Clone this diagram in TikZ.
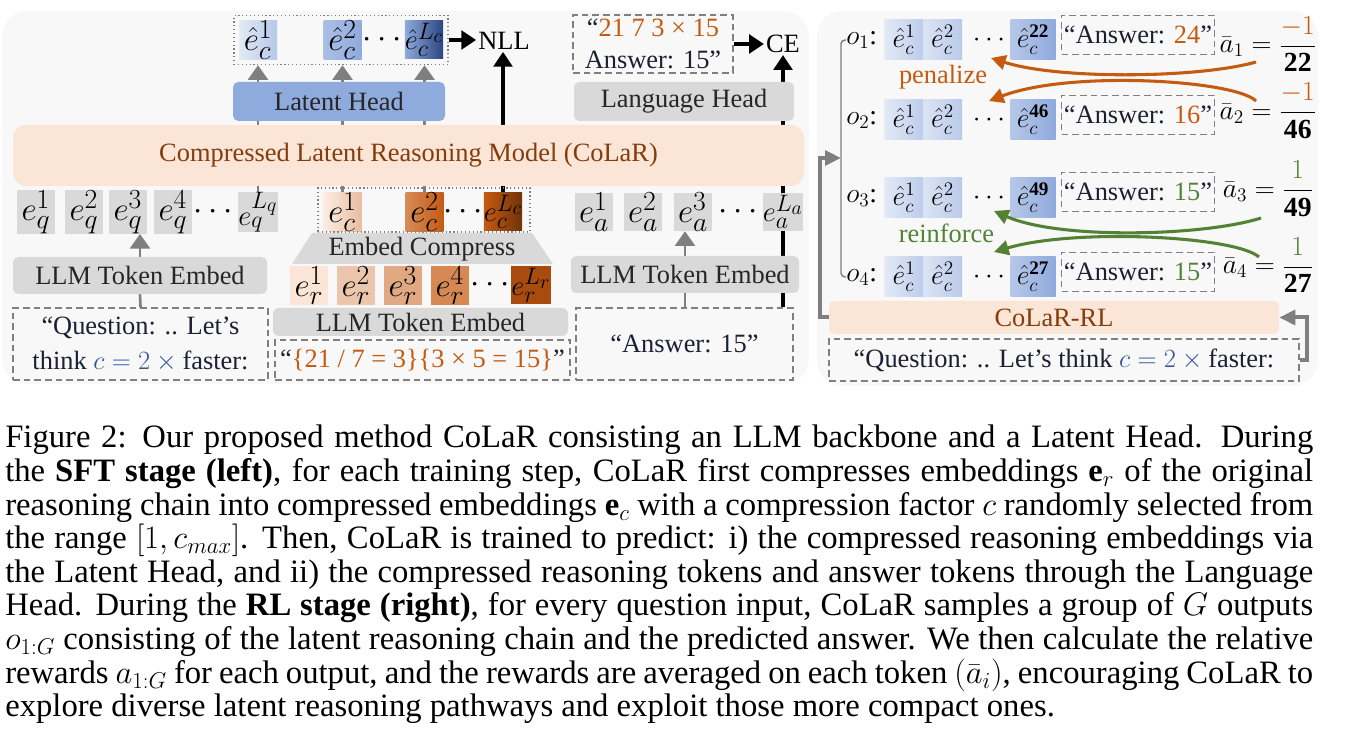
\documentclass[tikz,border=0pt]{standalone}
\usepackage{fix-cm}
\usepackage{fontspec}
\setmainfont{Liberation Serif}
\usepackage{graphicx}
\usepackage{xcolor}
\usepackage{tikz}
\usetikzlibrary{calc, arrows.meta, fit, backgrounds}
\pgfdeclarelayer{panel}
\pgfsetlayers{panel,background,main}
\definecolor{panelgray}{HTML}{F8F8F8}
\definecolor{boxgray}{HTML}{D9D9D9}
\definecolor{latentblue}{HTML}{8FAADC}
\definecolor{darknavy}{HTML}{2A4580}
\definecolor{peach}{HTML}{FBE5D6}
\definecolor{colarbrown}{HTML}{843C0C}
\definecolor{morange}{HTML}{C55A11}
\definecolor{mgreen}{HTML}{548235}
\definecolor{qblue}{HTML}{2F5597}
\definecolor{arrowgray}{HTML}{7F7F7F}
\definecolor{labeldark}{HTML}{262626}
\definecolor{quotedark}{HTML}{1C2033}
\newcommand{\lblsz}{\fontsize{19.8pt}{23.5pt}\selectfont}
\newcommand{\toksz}{\fontsize{24.88pt}{28pt}\selectfont}
\newcommand{\rtoksz}{\fontsize{20.74pt}{24pt}\selectfont}
\newcommand{\eqsz}{\fontsize{20.74pt}{24pt}\selectfont}
\newcommand{\capsz}{\fontsize{24.5pt}{25.2pt}\selectfont}
\newcommand{\lastsym}[1]{\scalebox{0.86}{$#1$}}

\begin{document}
\begin{tikzpicture}[
        x=0.75pt, y=-0.75pt,
        tok/.style = {minimum width=28.5pt, minimum height=28.5pt, inner sep=0pt, font=\toksz},
        gtok/.style = {tok, fill=boxgray},
        rtok/.style = {minimum width=29.25pt, minimum height=30pt, inner sep=0pt, font=\rtoksz},
        headbox/.style = {rounded corners=4pt, inner sep=0pt, align=center, font=\lblsz, text=labeldark},
        quotebox/.style = {draw=arrowgray, dash pattern=on 5pt off 3pt, line width=1.1pt, inner sep=0pt, align=center, font=\lblsz, text=quotedark},
        dotbox/.style = {draw=arrowgray, dotted, line width=0.9pt, inner sep=0pt},
        gline/.style = {draw=arrowgray, line width=2pt},
        garrow/.style = {gline, -{Triangle[width=15pt, length=11pt]}},
        barrow/.style = {draw=black, line width=2.4pt, -{Triangle[width=14pt, length=11pt]}},
        loopline/.style = {draw=arrowgray, line width=3pt, -{Triangle[width=11pt, length=12pt]}},
        bracket/.style = {draw=arrowgray, line width=1.1pt, rounded corners=3pt},
        curvearrow/.style = {line width=2.3pt, -{Triangle[width=11pt, length=11pt]}}
    ]
        \useasboundingbox (0,0) rectangle (1350,748);

        % Panels
        \begin{pgfonlayer}{panel}
            \fill[panelgray, rounded corners=19pt] (2,11) rectangle (809,384);
            \fill[panelgray, rounded corners=19pt] (817,11) rectangle (1318,386);
        \end{pgfonlayer}

        % SFT: predicted latents
        \node (lh1) [tok, left color=latentblue!25, right color=latentblue!65] at (258,40) {$\hat{e}_c^{1}$};
        \node (lh2) [tok, left color=latentblue!75, right color=latentblue] at (342.5,40) {$\hat{e}_c^{2}$};
        \node (lhdots) [font=\toksz] at (382,40) {$\cdots$};
        \node (lhL) [tok, left color=latentblue, right color=darknavy] at (424,40) {\lastsym{\hat{e}_c^{L_c}}};
        \node (lhgroup) [dotbox, fit=(lh1) (lhL), inner xsep=3.5pt, inner ysep=4pt] {};
        \node (nll) [font=\lblsz, inner sep=1.5pt] at (504,41) {NLL};

        % SFT: target text
        \node (target) [quotebox, minimum width=120pt, minimum height=43.5pt, font=\fontsize{19.8pt}{24pt}\selectfont] at (653,44) {“{\color{morange}21 7 3 × 15}\\Answer: 15”};
        \node (ce) [font=\lblsz, inner sep=1.5pt] at (783,44) {CE};

        % Heads
        \node (lathead) [headbox, fill=latentblue, minimum width=159pt, minimum height=29.25pt] at (339,101.5) {Latent Head};
        \node (langhead) [headbox, fill=boxgray, minimum width=165pt, minimum height=29.25pt] at (684,101.5) {Language Head};

        % Backbone
        \node (colar) [headbox, fill=peach, text=colarbrown, rounded corners=10pt, minimum width=593.25pt, minimum height=45.75pt] at (408.5,155.5) {Compressed Latent Reasoning Model (CoLaR)};

        % Question embeddings
        \node (eq1) [gtok] at (36,212) {$e_q^{1}$};
        \node (eq2) [gtok] at (84,212) {$e_q^{2}$};
        \node (eq3) [gtok] at (128,212) {$e_q^{3}$};
        \node (eq4) [gtok] at (173,212) {$e_q^{4}$};
        \node (eqdots) [font=\toksz] at (213,212) {$\cdots$};
        \node (eqL) [gtok] at (258,212) {\lastsym{e_q^{L_q}}};
        \node (qembed) [headbox, fill=boxgray, minimum width=190.5pt, minimum height=27.75pt] at (140,275.5) {LLM Token Embed};
        \node (qtext) [quotebox, minimum width=191.25pt, minimum height=54pt, font=\fontsize{19.8pt}{26pt}\selectfont] at (140.5,344) {“Question: .. Let’s\\think {\color{qblue}$c = 2\times{}$}faster:};

        % Compressed reasoning embeddings
        \node (ec1) [tok, left color=peach!70, right color=morange!40] at (342.5,212) {$e_c^{1}$};
        \node (ec2) [tok, left color=morange!70, right color=morange] at (424.5,212) {$e_c^{2}$};
        \node (ecdots) [font=\toksz] at (463,212) {$\cdots$};
        \node (ecL) [tok, left color=morange, right color=colarbrown!85!black] at (503,212) {\lastsym{e_c^{L_c}}};
        \node (ecgroup) [dotbox, minimum width=159pt, minimum height=33pt] at (424,210) {};
        \fill[boxgray] (292,264) -- (312,233) -- (532,233) -- (553,264) -- cycle;
        \node (compress) [font=\lblsz, text=labeldark] at (422,249) {Embed Compress};
        \node (er1) [tok, fill=peach] at (309,285.5) {$e_r^{1}$};
        \node (er2) [tok, fill=morange!35] at (356,285.5) {$e_r^{2}$};
        \node (er3) [tok, fill=morange!52] at (403,285.5) {$e_r^{3}$};
        \node (er4) [tok, fill=morange!72] at (450,285.5) {$e_r^{4}$};
        \node (erdots) [font=\toksz] at (490,285.5) {$\cdots$};
        \node (erL) [tok, fill=morange!85!black] at (531,285.5) {\lastsym{e_r^{L_r}}};
        \node (rembed) [headbox, fill=boxgray, minimum width=221.25pt, minimum height=21pt] at (420.5,322) {LLM Token Embed};
        \node (rtext) [quotebox, minimum width=221.25pt, minimum height=30pt] at (422.5,360) {“{\color{morange}\{21 / 7 = 3\}\{3 × 5 = 15\}}”};

        % Answer embeddings
        \node (ea1) [gtok] at (594,212) {$e_a^{1}$};
        \node (ea2) [gtok] at (643,212) {$e_a^{2}$};
        \node (ea3) [gtok] at (693,212) {$e_a^{3}$};
        \node (eadots) [font=\toksz] at (738,212) {$\cdots$};
        \node (eaL) [gtok] at (783,212) {\lastsym{e_a^{L_a}}};
        \node (aembed) [headbox, fill=boxgray, minimum width=171pt, minimum height=27.75pt] at (685,274.5) {LLM Token Embed};
        \node (atext) [quotebox, minimum width=162.75pt, minimum height=54pt] at (684.5,344) {“Answer: 15”};

        % SFT connectors, behind the boxes
        \begin{scope}[on background layer]
            \draw [gline] (qtext.north) -- (qembed.south);
            \draw [garrow] (qembed.north) -- (qembed.north |- eq3.south);
            \draw [garrow] (eqL.north) -- (eqL.north |- lhgroup.south);
            \draw [garrow] (ec1.north) -- (ec1.north |- lhgroup.south);
            \draw [garrow] (ec2.north) -- (ec2.north |- lhgroup.south);
            \draw [barrow] (ecL.north) -- (ecL.north |- nll.south);
            \draw [barrow] (lhgroup.east) -- (lhgroup.east -| nll.west);
            \draw [gline] (atext.north -| aembed.south) -- (aembed.south);
            \draw [garrow] (aembed.north) -- (aembed.north |- ea3.south);
            \draw [barrow] (atext.north -| eaL) -- (ce.south);
            \draw [barrow] (target.east) -- (target.east -| ce.west);
        \end{scope}

        % RL: sampled outputs
        \node (o1) [font=\eqsz, anchor=west, inner sep=0pt] at (846,40) {$o_1$:};
        \node (r1a) [rtok, left color=latentblue!25, right color=latentblue!60] at (904,40) {$\hat{e}_c^{1}$};
        \node (r1b) [rtok, left color=latentblue!32, right color=latentblue!62] at (942.5,40) {$\hat{e}_c^{2}$};
        \node (r1dots) [font=\rtoksz] at (989,40) {$\cdots$};
        \node (r1L) [rtok, minimum width=33.75pt, left color=latentblue!65, right color=latentblue] at (1033,40) {$\hat{e}_c^{\mathbf{22}}$};
        \node (ans1) [quotebox, minimum width=114.75pt, minimum height=29.25pt] at (1138,35) {“Answer: {\color{morange}24}”};
        \node (adv1) [font=\eqsz, inner sep=0pt] at (1268,44) {$\displaystyle\bar{a}_1 = \frac{\color{morange}-1}{\mathbf{22}}$};

        \node (o2) [font=\eqsz, anchor=west, inner sep=0pt] at (846,120) {$o_2$:};
        \node (r2a) [rtok, left color=latentblue!25, right color=latentblue!60] at (904,120) {$\hat{e}_c^{1}$};
        \node (r2b) [rtok, left color=latentblue!32, right color=latentblue!62] at (942.5,120) {$\hat{e}_c^{2}$};
        \node (r2dots) [font=\rtoksz] at (989,120) {$\cdots$};
        \node (r2L) [rtok, minimum width=33.75pt, left color=latentblue!65, right color=latentblue] at (1033,120) {$\hat{e}_c^{\mathbf{46}}$};
        \node (ans2) [quotebox, minimum width=114.75pt, minimum height=29.25pt] at (1138,115) {“Answer: {\color{morange}16}”};
        \node (adv2) [font=\eqsz, inner sep=0pt] at (1268,111) {$\displaystyle\bar{a}_2 = \frac{\color{morange}-1}{\mathbf{46}}$};

        \node (o3) [font=\eqsz, anchor=west, inner sep=0pt] at (846,198) {$o_3$:};
        \node (r3a) [rtok, left color=latentblue!25, right color=latentblue!60] at (904,198) {$\hat{e}_c^{1}$};
        \node (r3b) [rtok, left color=latentblue!32, right color=latentblue!62] at (942.5,198) {$\hat{e}_c^{2}$};
        \node (r3dots) [font=\rtoksz] at (989,198) {$\cdots$};
        \node (r3L) [rtok, minimum width=33.75pt, left color=latentblue!65, right color=latentblue] at (1033,198) {$\hat{e}_c^{\mathbf{49}}$};
        \node (ans3) [quotebox, minimum width=114.75pt, minimum height=29.25pt] at (1138,192) {“Answer: {\color{mgreen}15}”};
        \node (adv3) [font=\eqsz, inner sep=0pt] at (1268,189) {$\displaystyle\bar{a}_3 = \frac{\color{mgreen}1}{\mathbf{49}}$};

        \node (o4) [font=\eqsz, anchor=west, inner sep=0pt] at (846,277) {$o_4$:};
        \node (r4a) [rtok, left color=latentblue!25, right color=latentblue!60] at (904,277) {$\hat{e}_c^{1}$};
        \node (r4b) [rtok, left color=latentblue!32, right color=latentblue!62] at (942.5,277) {$\hat{e}_c^{2}$};
        \node (r4dots) [font=\rtoksz] at (989,277) {$\cdots$};
        \node (r4L) [rtok, minimum width=33.75pt, left color=latentblue!65, right color=latentblue] at (1033,277) {$\hat{e}_c^{\mathbf{27}}$};
        \node (ans4) [quotebox, minimum width=114.75pt, minimum height=29.25pt] at (1138,272) {“Answer: {\color{mgreen}15}”};
        \node (adv4) [font=\eqsz, inner sep=0pt] at (1268,265) {$\displaystyle\bar{a}_4 = \frac{\color{mgreen}1}{\mathbf{27}}$};

        % Feedback labels
        \node (pen) [font=\lblsz, text=morange] at (943,77.5) {penalize};
        \node (rein) [font=\lblsz, text=mgreen] at (946.5,233) {reinforce};

        % RL model and prompt
        \node (rl) [headbox, fill=peach, text=colarbrown, minimum width=337.5pt, minimum height=24.75pt] at (1054,317.5) {CoLaR-RL};
        \node (rq) [quotebox, minimum width=352.5pt, minimum height=31.5pt] at (1064,360) {“Question: .. Let’s think {\color{qblue}$c = 2\times{}$}faster:};

        % RL connectors
        \coordinate (brk) at (841,158);
        \draw [bracket] (o1.west) -| (brk) |- (o4.west);
        \draw [loopline] (rl.west) -- ++(-9,0) |- (brk);
        \draw [loopline] (rq.east) -- ++(7,0) |- (rl.east);

        \coordinate (pen1) at (1256,62);
        \coordinate (pen2) at (1256,101);
        \coordinate (rein1) at (1261,218);
        \coordinate (rein2) at (1259,257);
        \draw [curvearrow, morange] (pen1) .. controls (1200,78) and (1060,80) .. ($(r1dots)+(2,18)$);
        \draw [curvearrow, morange] (pen2) .. controls (1235,80) and (1070,70) .. ($(r2dots)+(0,-19)$);
        \draw [curvearrow, mgreen] (rein1) .. controls (1205,236) and (1060,240) .. ($(r3dots)+(5,13)$);
        \draw [curvearrow, mgreen] (rein2) .. controls (1235,236) and (1075,228) .. ($(r4dots)+(5,-25)$);

        % Caption
        \node (caption) [anchor=base west, inner sep=0pt, text width=981pt, align=justify, font=\capsz] at (5,448) {\hyphenpenalty=10000 Figure 2: Our proposed method CoLaR consisting an LLM backbone and a Latent Head. During\linebreak
        the \textbf{SFT stage (left)}, for each training step, CoLaR first compresses embeddings $\mathbf{e}_r$ of the original\linebreak
        reasoning chain into compressed embeddings $\mathbf{e}_c$ with a compression factor $c$ randomly selected from\linebreak
        the range $[1, c_{max}]$. Then, CoLaR is trained to predict: i) the compressed reasoning embeddings via\linebreak
        the Latent Head, and ii) the compressed reasoning tokens and answer tokens through the Language\linebreak
        Head. During the \textbf{RL stage (right)}, for every question input, CoLaR samples a group of $G$ outputs\linebreak
        $o_{1:G}$ consisting of the latent reasoning chain and the predicted answer. We then calculate the relative\linebreak
        rewards $a_{1:G}$ for each output, and the rewards are averaged on each token $(\bar{a}_i)$, encouraging CoLaR to\linebreak
        explore diverse latent reasoning pathways and exploit those more compact ones.};

    \end{tikzpicture}
\end{document}
